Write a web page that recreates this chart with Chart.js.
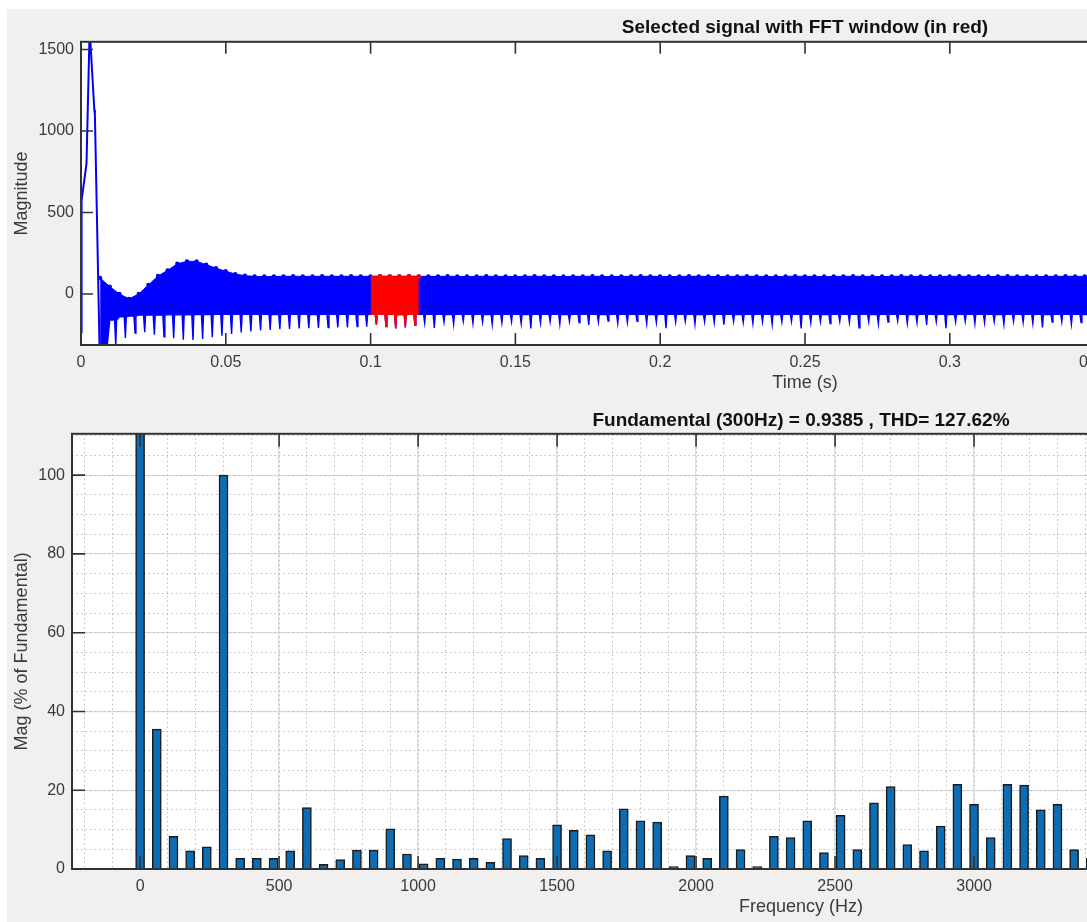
<!DOCTYPE html>
<html>
<head>
<meta charset="utf-8">
<title>FFT analysis</title>
<script src="https://cdn.jsdelivr.net/npm/chart.js@4.4.1/dist/chart.umd.min.js"></script>
<style>
  html, body { margin: 0; padding: 0; width: 1087px; height: 922px; overflow: hidden; background: #fff; }
  #figure { position: absolute; left: 7px; top: 9px; width: 1600px; height: 960px; background: #f0f0f0; }
  canvas { position: absolute; left: 0; }
  #signalChart { top: 0; }
  #spectrumChart { top: 390px; }
</style>
</head>
<body>
<div id="figure"></div>
<canvas id="signalChart" width="1560" height="400"></canvas>
<canvas id="spectrumChart" width="1560" height="532"></canvas>
<script>
// start-up transient (s, magnitude)
const rampTime = [0, 0.0002, 0.0019, 0.0029, 0.0032, 0.0046, 0.0048, 0.0064];
const rampValue = [-235, 575, 800, 1560, 1560, 1130, 1100, -330];

// switching band, one entry per 300 Hz cycle starting at cycleStart
const cycleStart = 0.0066;
const cyclePeriod = 1 / 300;
const bandTop = [
  98, 45, 0, -30, 0, 55, 110, 145, 185, 200,
  200, 180, 158, 140, 122, 112, 108, 107, 108, 108,
  109, 108, 108, 109, 108, 108, 109, 108, 108, 109,
  108, 108, 109, 108, 108, 108, 109, 108, 107, 108,
  109, 108, 108, 107, 108, 109, 108, 108, 107, 108,
  108, 109, 108, 107, 108, 108, 109, 108, 108, 107,
  108, 109, 108, 108, 107, 108, 108, 109, 108, 108,
  107, 108, 109, 108, 108, 107, 108, 108, 109, 108,
  108, 107, 108, 109, 108, 108, 107, 108, 108, 109,
  108, 108, 107, 108, 109, 108, 108, 107, 108, 108,
  109, 108, 108, 107
];
const bandBase = [
  -330, -160, -140, -135, -130, -130, -130, -128, -128, -128,
  -126, -126, -125, -125, -125, -125, -125, -124, -126, -125,
  -125, -124, -126, -125, -125, -124, -125, -126, -125, -124,
  -125, -126, -125, -124, -125, -125, -126, -124, -125, -125,
  -126, -125, -124, -125, -126, -125, -125, -124, -126, -125,
  -124, -125, -126, -125, -125, -124, -125, -126, -125, -124,
  -125, -125, -126, -124, -125, -125, -126, -125, -124, -125,
  -126, -125, -125, -124, -125, -126, -125, -124, -125, -125,
  -126, -124, -125, -125, -126, -125, -124, -125, -126, -125,
  -125, -124, -125, -126, -125, -124, -125, -125, -126, -124,
  -125, -125, -126, -124
];
const spikeTip = [
  -340, -320, -270, -240, -235, -250, -262, -272, -280, -282,
  -276, -266, -256, -246, -236, -230, -224, -220, -216, -214,
  -212, -210, -208, -206, -205, -205, -200, -200, -188, -200,
  -212, -205, -192, -178, -208, -172, -185, -168, -180, -172,
  -186, -176, -170, -182, -212, -178, -170, -185, -168, -175,
  -190, -172, -166, -180, -174, -168, -182, -176, -210, -172,
  -168, -184, -170, -176, -188, -168, -174, -180, -170, -186,
  -172, -168, -212, -176, -170, -182, -168, -174, -208, -170,
  -184, -172, -166, -180, -176, -190, -170, -210, -172, -168,
  -182, -176, -170, -186, -168, -174, -180, -206, -172, -170,
  -184, -176, -168, -180
];

// FFT window (s)
const fftWindow = [0.1, 0.1 + 1 / 60];

const timeTicks = [0, 0.05, 0.1, 0.15, 0.2, 0.25, 0.3, 0.35, 0.4, 0.45, 0.5];
const magTicks = [0, 500, 1000, 1500];

// spectrum, 60 Hz bins
const freqHz = [
  0, 60, 120, 180, 240, 300, 360, 420, 480, 540,
  600, 660, 720, 780, 840, 900, 960, 1020, 1080, 1140,
  1200, 1260, 1320, 1380, 1440, 1500, 1560, 1620, 1680, 1740,
  1800, 1860, 1920, 1980, 2040, 2100, 2160, 2220, 2280, 2340,
  2400, 2460, 2520, 2580, 2640, 2700, 2760, 2820, 2880, 2940,
  3000, 3060, 3120, 3180, 3240, 3300, 3360, 3420
];
const magPct = [
  112, 35.5, 8.3, 4.6, 5.6, 100, 2.7, 2.7, 2.7, 4.6,
  15.6, 1.2, 2.4, 4.8, 4.8, 10.2, 3.8, 1.3, 2.7, 2.5,
  2.7, 1.7, 7.7, 3.4, 2.7, 11.2, 9.8, 8.7, 4.6, 15.3,
  12.2, 11.9, 0.6, 3.4, 2.7, 18.5, 4.9, 0.6, 8.3, 8.0,
  12.2, 4.2, 13.6, 4.9, 16.8, 20.9, 6.2, 4.6, 10.9, 21.5,
  16.4, 8.0, 21.5, 21.3, 15.0, 16.4, 4.9, 2.7
];
const freqTicks = [0, 500, 1000, 1500, 2000, 2500, 3000, 3500, 4000, 4500, 5000];
const pctTicks = [0, 20, 40, 60, 80, 100];

Chart.defaults.font.family = "'Liberation Sans', Arial, sans-serif";
Chart.defaults.color = '#3a3a3a';
Chart.defaults.animation = false;

// white plot area, dark box and inward tick marks
const axesBox = {
  id: 'axesBox',
  beforeDraw(chart) {
    const { ctx, chartArea: a } = chart;
    ctx.save();
    ctx.fillStyle = '#ffffff';
    ctx.fillRect(a.left, a.top, a.right - a.left, a.bottom - a.top);
    ctx.restore();
  },
  afterDraw(chart, args, opts) {
    const { ctx, chartArea: a, scales } = chart;
    const len = opts.tickLength || 12;
    ctx.save();
    ctx.strokeStyle = '#333333';
    ctx.lineWidth = 1.6;
    ctx.beginPath();
    scales.x.ticks.forEach(t => {
      const px = scales.x.getPixelForValue(t.value);
      ctx.moveTo(px, a.bottom); ctx.lineTo(px, a.bottom - len);
      ctx.moveTo(px, a.top); ctx.lineTo(px, a.top + len);
    });
    scales.y.ticks.forEach(t => {
      const py = scales.y.getPixelForValue(t.value);
      ctx.moveTo(a.left, py); ctx.lineTo(a.left + len, py);
      ctx.moveTo(a.right, py); ctx.lineTo(a.right - len, py);
    });
    ctx.stroke();
    ctx.lineWidth = 2;
    ctx.strokeRect(a.left, a.top, a.right - a.left, a.bottom - a.top);
    ctx.restore();
  }
};

// ---- signal ----
const rampPts = rampTime.map((t, i) => ({ x: t, y: rampValue[i] }));
const signalTop = [];
const signalLow = [];
bandTop.forEach((v, i) => {
  const mid = cycleStart + i * cyclePeriod;
  const spike = mid + cyclePeriod / 2;
  signalTop.push({ x: mid, y: v });
  signalLow.push(
    { x: mid, y: bandBase[i] },
    { x: spike, y: bandBase[i] },
    { x: spike + 0.0004, y: spikeTip[i] },
    { x: spike + 0.0007, y: bandBase[i] }
  );
});

const inWindow = p => p.x > fftWindow[0] && p.x < fftWindow[1];
const cycleAt = t => Math.floor((t - cycleStart) / cyclePeriod);
const w0 = cycleAt(fftWindow[0]);
const w1 = cycleAt(fftWindow[1]);
const redTop = [
  { x: fftWindow[0], y: bandTop[w0], edge: true },
  ...signalTop.filter(inWindow),
  { x: fftWindow[1], y: bandTop[w1], edge: true }
];
const redLow = [
  { x: fftWindow[0], y: bandBase[w0] },
  ...signalLow.filter(inWindow),
  { x: fftWindow[1], y: bandBase[w1] }
];

const bump = c => (c.raw && c.raw.edge ? 0 : 2.2);

new Chart(document.getElementById('signalChart'), {
  type: 'line',
  data: {
    datasets: [
      { data: redTop, borderColor: '#ff0000', backgroundColor: '#ff0000', fill: '+1',
        borderWidth: 1, pointRadius: bump, pointBorderWidth: 0, pointBackgroundColor: '#ff0000' },
      { data: redLow, borderColor: '#ff0000', borderWidth: 1.4, pointRadius: 0, fill: false },
      { data: signalTop, borderColor: '#0000ff', backgroundColor: '#0000ff', fill: '+1',
        borderWidth: 1, pointRadius: 2.2, pointBorderWidth: 0, pointBackgroundColor: '#0000ff' },
      { data: signalLow, borderColor: '#0000ff', borderWidth: 1.4, pointRadius: 0, fill: false },
      { data: rampPts, borderColor: '#0000ff', borderWidth: 2, pointRadius: 0, fill: false }
    ]
  },
  options: {
    responsive: false,
    events: [],
    layout: { padding: { left: 0, right: 31, top: 0, bottom: 0 } },
    plugins: {
      legend: { display: false },
      tooltip: { enabled: false },
      title: {
        display: true, fullSize: false,
        text: 'Selected signal with FFT window (in red)',
        color: '#111', font: { size: 19, weight: 'bold' },
        padding: { top: 16, bottom: 3 }
      },
      axesBox: { tickLength: 12 }
    },
    scales: {
      x: {
        type: 'linear', min: 0, max: 0.5,
        grid: { display: false, drawTicks: false },
        border: { display: false },
        ticks: { font: { size: 16 }, padding: 8, autoSkip: false, maxRotation: 0, callback: v => String(v) },
        afterBuildTicks: s => { s.ticks = timeTicks.map(v => ({ value: v })); },
        afterFit: s => { s.height = 55; },
        title: { display: true, text: 'Time (s)', font: { size: 18 }, padding: { top: 0, bottom: 6 } }
      },
      y: {
        type: 'linear', min: -313, max: 1547,
        grid: { display: false, drawTicks: false },
        border: { display: false },
        ticks: { font: { size: 16 }, padding: 7, callback: v => String(v) },
        afterBuildTicks: s => { s.ticks = magTicks.map(v => ({ value: v })); },
        afterFit: s => { s.width = 81; },
        title: { display: true, text: 'Magnitude', font: { size: 18 }, padding: { top: 11, bottom: 0 } }
      }
    }
  },
  plugins: [axesBox]
});

// ---- spectrum ----
new Chart(document.getElementById('spectrumChart'), {
  type: 'bar',
  data: {
    datasets: [{
      data: freqHz.map((f, i) => ({ x: f, y: magPct[i] })),
      backgroundColor: 'rgb(12,108,180)',
      borderColor: '#1a1a1a',
      borderWidth: 1.5,
      barThickness: 9
    }]
  },
  options: {
    responsive: false,
    events: [],
    layout: { padding: { left: 0, right: 30, top: 0, bottom: 0 } },
    plugins: {
      legend: { display: false },
      tooltip: { enabled: false },
      title: {
        display: true, fullSize: false,
        text: 'Fundamental (300Hz) = 0.9385 , THD= 127.62%',
        color: '#111', font: { size: 19, weight: 'bold' },
        padding: { top: 19, bottom: 2 }
      },
      axesBox: { tickLength: 13 }
    },
    scales: {
      x: {
        type: 'linear', min: -245, max: 5000, offset: false,
        grid: { color: '#dddddd', lineWidth: 1.2, drawTicks: false, offset: false },
        border: { display: false },
        ticks: { font: { size: 16 }, padding: 8, autoSkip: false, maxRotation: 0, callback: v => String(v) },
        afterBuildTicks: s => { s.ticks = freqTicks.map(v => ({ value: v })); },
        afterFit: s => { s.height = 53; },
        title: { display: true, text: 'Frequency (Hz)', font: { size: 18 }, padding: { top: 0, bottom: 4 } }
      },
      xMinor: {
        type: 'linear', position: 'bottom', min: -245, max: 5000, offset: false,
        grid: { color: '#bcbcbc', lineWidth: 1, drawTicks: false, offset: false },
        border: { display: false, dash: [1.5, 3] },
        ticks: { display: false },
        afterBuildTicks: s => {
          const out = [];
          for (let v = Math.ceil(s.min / 100) * 100; v <= s.max; v += 100) out.push({ value: v });
          s.ticks = out;
        },
        afterFit: s => { s.height = 0; }
      },
      y: {
        type: 'linear', min: 0, max: 110.5,
        grid: { color: '#dddddd', lineWidth: 1.2, drawTicks: false },
        border: { display: false },
        ticks: { font: { size: 16 }, padding: 7, callback: v => String(v) },
        afterBuildTicks: s => { s.ticks = pctTicks.map(v => ({ value: v })); },
        afterFit: s => { s.width = 72; },
        title: { display: true, text: 'Mag (% of Fundamental)', font: { size: 18 }, padding: { top: 11, bottom: 0 } }
      },
      yMinor: {
        type: 'linear', position: 'left', min: 0, max: 110.5,
        grid: { color: '#bcbcbc', lineWidth: 1, drawTicks: false },
        border: { display: false, dash: [1.5, 3] },
        ticks: { display: false },
        afterBuildTicks: s => {
          const out = [];
          for (let v = 5; v <= s.max; v += 5) out.push({ value: v });
          s.ticks = out;
        },
        afterFit: s => { s.width = 0; }
      }
    }
  },
  plugins: [axesBox]
});
</script>
</body>
</html>
